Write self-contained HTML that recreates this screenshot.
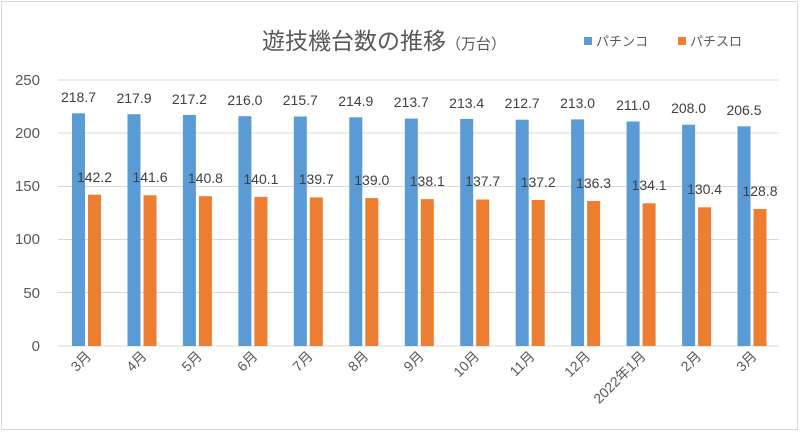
<!DOCTYPE html>
<html><head><meta charset="utf-8"><style>
body{margin:0;background:#fff}
text{font-family:"Liberation Sans","Noto Sans CJK JP",sans-serif}
</style></head><body>
<svg width="800" height="433" xmlns="http://www.w3.org/2000/svg">
<rect x="1.5" y="1.5" width="796" height="428" fill="#fff" stroke="#d9d9d9"/>
<text x="262" y="49" font-size="23" fill="#595959">遊技機台数の推移<tspan font-size="15">（万台）</tspan></text>
<rect x="584" y="37" width="8" height="8" fill="#5b9bd5"/>
<text x="596" y="46" font-size="13" fill="#595959">パチンコ</text>
<rect x="678" y="37" width="8" height="8" fill="#ed7d31"/>
<text x="690" y="46" font-size="13" fill="#595959">パチスロ</text>
<g stroke="#d9d9d9" stroke-width="1">
<line x1="58" x2="779" y1="80" y2="80"/><line x1="58" x2="779" y1="133" y2="133"/>
<line x1="58" x2="779" y1="186.5" y2="186.5"/><line x1="58" x2="779" y1="239.5" y2="239.5"/>
<line x1="58" x2="779" y1="292.5" y2="292.5"/><line x1="58" x2="779" y1="346" y2="346"/>
</g>
<g font-size="15" fill="#595959" text-anchor="end">
<text x="40" y="85">250</text><text x="40" y="138">200</text><text x="40" y="191">150</text>
<text x="40" y="244">100</text><text x="40" y="298">50</text><text x="40" y="351">0</text>
</g>
<g fill="#5b9bd5">
<rect x="72" y="113.3" width="13" height="232.7"/>
<rect x="127.5" y="114.2" width="13" height="231.8"/>
<rect x="182.9" y="114.9" width="13" height="231.1"/>
<rect x="238.4" y="116.2" width="13" height="229.8"/>
<rect x="293.8" y="116.5" width="13" height="229.5"/>
<rect x="349.3" y="117.3" width="13" height="228.7"/>
<rect x="404.8" y="118.6" width="13" height="227.4"/>
<rect x="460.2" y="118.9" width="13" height="227.1"/>
<rect x="515.7" y="119.7" width="13" height="226.3"/>
<rect x="571.1" y="119.4" width="13" height="226.6"/>
<rect x="626.6" y="121.5" width="13" height="224.5"/>
<rect x="682.1" y="124.7" width="13" height="221.3"/>
<rect x="737.5" y="126.3" width="13" height="219.7"/>
</g>
<g fill="#ed7d31">
<rect x="88" y="194.7" width="13" height="151.3"/>
<rect x="143.5" y="195.3" width="13" height="150.7"/>
<rect x="198.9" y="196.2" width="13" height="149.8"/>
<rect x="254.4" y="196.9" width="13" height="149.1"/>
<rect x="309.8" y="197.4" width="13" height="148.6"/>
<rect x="365.3" y="198.1" width="13" height="147.9"/>
<rect x="420.8" y="199.1" width="13" height="146.9"/>
<rect x="476.2" y="199.5" width="13" height="146.5"/>
<rect x="531.7" y="200" width="13" height="146"/>
<rect x="587.1" y="201" width="13" height="145"/>
<rect x="642.6" y="203.3" width="13" height="142.7"/>
<rect x="698.1" y="207.3" width="13" height="138.7"/>
<rect x="753.5" y="209" width="13" height="137"/>
</g>
<g font-size="14" fill="#404040" text-anchor="middle">
<text x="78.5" y="102">218.7</text>
<text x="134" y="103">217.9</text>
<text x="189.4" y="104">217.2</text>
<text x="244.9" y="105">216.0</text>
<text x="300.3" y="105">215.7</text>
<text x="355.8" y="106">214.9</text>
<text x="411.3" y="107">213.7</text>
<text x="466.7" y="108">213.4</text>
<text x="522.2" y="108">212.7</text>
<text x="577.6" y="108">213.0</text>
<text x="633.1" y="110">211.0</text>
<text x="688.6" y="113">208.0</text>
<text x="744" y="115">206.5</text>
<text x="94.5" y="182">142.2</text>
<text x="150" y="182">141.6</text>
<text x="205.4" y="183">140.8</text>
<text x="260.9" y="184">140.1</text>
<text x="316.3" y="184">139.7</text>
<text x="371.8" y="185">139.0</text>
<text x="427.3" y="186">138.1</text>
<text x="482.7" y="186">137.7</text>
<text x="538.2" y="187">137.2</text>
<text x="593.6" y="188">136.3</text>
<text x="649.1" y="190">134.1</text>
<text x="704.6" y="194">130.4</text>
<text x="760" y="196">128.8</text>
</g>
<g font-size="14" fill="#595959" text-anchor="end">
<text transform="translate(92,357) rotate(-45)">3月</text>
<text transform="translate(147.5,357) rotate(-45)">4月</text>
<text transform="translate(202.9,357) rotate(-45)">5月</text>
<text transform="translate(258.4,357) rotate(-45)">6月</text>
<text transform="translate(313.8,357) rotate(-45)">7月</text>
<text transform="translate(369.3,357) rotate(-45)">8月</text>
<text transform="translate(424.8,357) rotate(-45)">9月</text>
<text transform="translate(480.2,357) rotate(-45)">10月</text>
<text transform="translate(535.7,357) rotate(-45)">11月</text>
<text transform="translate(591.1,357) rotate(-45)">12月</text>
<text transform="translate(646.6,357) rotate(-45)">2022年1月</text>
<text transform="translate(702.1,357) rotate(-45)">2月</text>
<text transform="translate(757.5,357) rotate(-45)">3月</text>
</g>
</svg>
</body></html>
